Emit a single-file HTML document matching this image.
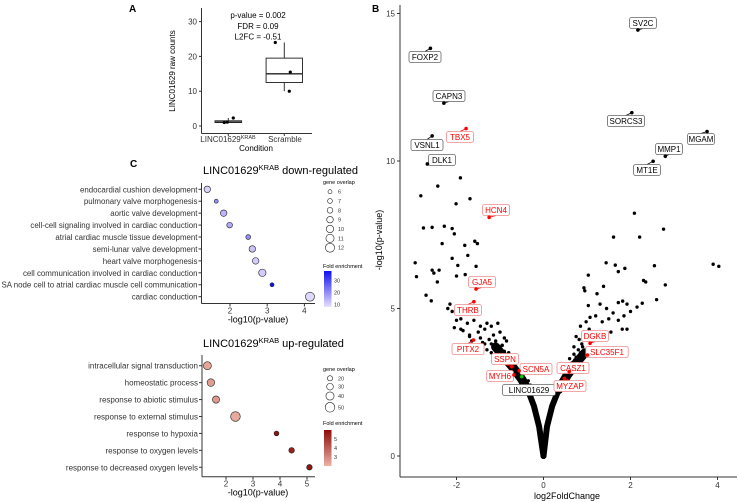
<!DOCTYPE html>
<html><head><meta charset="utf-8"><style>
html,body{margin:0;padding:0;background:#fff}
svg{display:block;font-family:"Liberation Sans",Arial,sans-serif}
</style></head><body>
<svg id="fig" width="738" height="502" viewBox="0 0 738 502" xmlns="http://www.w3.org/2000/svg">
<g id="pA"></g>
<g id="pB"></g>
<g id="pC1"></g>
<g id="pC2"></g>
</svg>
<script>
// ---------- Panel A data ----------
const aGroups = ["LINC01629", "Scramble"];
const aPoints1 = [1.0, 1.1, 2.3];
const aPoints2 = [24, 15.5, 10];
const aBox1 = [0.9, 1.0, 1.1, 1.5, 2.3];
const aBox2 = [10, 12.5, 15, 19.5, 24];
const aTicks = [0, 10, 20, 30];
const aStats = ["p-value = 0.002", "FDR = 0.09", "L2FC = -0.51"];

// ---------- Panel B data ----------
const bXTicks = [-2, 0, 2, 4];
const bYTicks = [0, 5, 10, 15];
const bGenes = ["FOXP2","CAPN3","TBX5","VSNL1","DLK1","HCN4","SV2C","SORCS3","MGAM","MMP1","MT1E","GJA5","THRB","PITX2","SSPN","SCN5A","MYH6","LINC01629","DGKB","SLC35F1","CASZ1","MYZAP"];
const bGeneLfc = [-2.60,-2.29,-1.78,-2.56,-2.67,-1.25,2.17,2.03,3.76,2.80,2.52,-1.55,-1.60,-1.61,-0.73,-0.56,-0.68,-0.50,1.07,1.01,0.59,0.48];
const bGeneP = [13.82,11.96,11.1,10.85,9.9,8.09,14.44,11.64,11.0,10.16,9.99,5.66,5.23,3.93,3.03,2.89,2.75,2.69,3.82,3.42,2.86,2.63];
const bGeneCls = ["k","k","r","k","k","r","k","k","k","k","k","r","r","r","r","r","r","g","r","r","r","r"];
const bOtherLfc = [-1.91,-2.43,-2.82,-1.69,-2.01,2.09,-2.76,-2.56,-2.28,-2.10,-2.05,2.76,1.61,2.21,-2.33,-1.81,-1.58,-1.52,
 -2.95,-2.92,-2.56,-2.52,-2.40,-2.10,-1.97,-1.74,-1.55,-2.0,-1.8,-2.44,-1.42,-2.7,-2.58,-2.2,-2.1,-2.15,
 1.44,1.65,1.87,1.72,2.55,3.9,4.03,1.03,2.3,2.35,2.8,1.38,0.93,0.95,1.23,2.6,2.27,2.15,1.03,1.3,1.72,1.82,1.92,2.0,1.85,1.72,1.81,1.92,
 1.45,1.6,1.07,1.2,1.35,1.5,0.98,0.85,0.92,0.75,0.82,1.05,1.55,0.7,0.88,
 -1.9,-1.75,-1.6,-1.45,-1.3,-1.2,-1.05,-2.05,-1.85,-1.7,-1.5,-1.35,-1.15,-1.0,-0.9,-1.65,-1.4,-1.25,-1.1,-0.95,-0.85,-1.3,-1.2,-1.05,-0.8,-0.75,-1.45,-1.7,-1.9,-2.0,-1.15,-0.3,-0.35,
 -1.0,-0.9,-0.8,-1.1,-1.2,-0.7,-0.65,-1.35,-1.5,-0.95,-1.05,-0.85,0.6,0.7,0.8,0.65,0.75,0.85,0.9,1.0,0.55,0.62,0.72,1.1];
const bOtherP = [9.43,9.15,8.82,8.72,8.55,8.23,7.73,7.75,7.79,7.71,7.53,7.69,7.42,7.42,7.2,7.14,7.28,7.2,
 6.55,6.08,6.3,6.2,6.3,6.7,6.46,6.8,6.43,6.1,6.15,5.9,5.8,5.45,5.26,5.0,4.9,5.15,
 6.55,6.47,6.36,6.25,6.45,6.5,6.43,6.13,5.95,5.9,5.8,5.75,5.7,5.6,5.5,5.3,5.18,5.05,5.1,5.15,5.2,5.25,5.15,4.9,4.75,4.6,4.3,4.3,
 5.0,4.85,4.7,4.75,4.55,4.65,4.55,4.4,4.2,4.05,3.95,4.3,4.2,3.7,3.8,
 4.65,4.5,4.6,4.4,4.5,4.4,4.5,4.35,4.25,4.1,4.2,4.3,4.1,4.2,4.0,3.9,3.85,3.95,3.7,3.75,3.9,3.6,3.5,3.45,3.5,3.3,4.0,4.05,4.3,4.6,3.35,2.4,2.55,
 3.7,3.55,3.4,3.9,3.8,3.2,3.05,3.8,3.65,3.75,3.5,3.25,3.3,3.45,3.6,3.15,3.35,3.5,3.7,3.6,2.95,3.05,3.25,3.9];
const bArmL = [[0,0],[-0.1,1.0],[-0.22,1.7],[-0.35,2.2],[-0.5,2.6],[-0.7,3.0],[-0.9,3.35],[-1.1,3.7]];
const bArmR = [[0,0],[0.08,1.0],[0.2,1.7],[0.35,2.25],[0.55,2.75],[0.75,3.15],[0.95,3.5]];
const bLabelPos = [[425,57],[449,96],[460,137],[427,145],[442,160],[496,210],[643,23],[626,121],[701,139],[669,149],[647,170],
 [482,282],[468,310],[468,349],[505,359],[536,369],[500,376],[529,390],[595,336],[607,352],[573,368],[570,386]];

// ---------- Panel C data ----------
const cDownTerms = ["endocardial cushion development","pulmonary valve morphogenesis","aortic valve development","cell-cell signaling involved in cardiac conduction","atrial cardiac muscle tissue development","semi-lunar valve development","heart valve morphogenesis","cell communication involved in cardiac conduction","SA node cell to atrial cardiac muscle cell communication","cardiac conduction"];
const cDownP = [1.39,1.63,1.83,1.99,2.49,2.6,2.69,2.87,3.13,4.15];
const cDownOverlap = [9,6,9,8,7,9,9,10,6,12];
const cDownFold = [10,20,14,16,20,12,11,11,38,9];
const cDownXTicks = [2,3,4];
const cDownSizeLegend = [6,7,8,9,10,11,12];
const cDownFoldTicks = [10,20,30];
const cUpTerms = ["intracellular signal transduction","homeostatic process","response to abiotic stimulus","response to external stimulus","response to hypoxia","response to oxygen levels","response to decreased oxygen levels"];
const cUpP = [1.31,1.44,1.63,2.35,3.87,4.43,5.09];
const cUpOverlap = [39,36,34,50,18,23,23];
const cUpFold = [2.3,2.5,2.6,2.2,5.8,5.5,5.8];
const cUpXTicks = [2,3,4,5];
const cUpSizeLegend = [20,30,40,50];
const cUpFoldTicks = [3,4,5];

const NS="http://www.w3.org/2000/svg";
function mk(parent,tag,attrs,text){const e=document.createElementNS(NS,tag);for(const k in attrs)e.setAttribute(k,attrs[k]);if(text!==undefined)e.textContent=text;parent.appendChild(e);return e;}
function lerpCol(c1,c2,t){t=Math.max(0,Math.min(1,t));const a=c1.map((v,i)=>Math.round(v+(c2[i]-v)*t));return `rgb(${a[0]},${a[1]},${a[2]})`;}

const fig=document.getElementById('fig');
[["A",129,12],["B",372,12],["C",130,167]].forEach(([t,x,y])=>{const e=mk(fig,'text',{x:x,y:y,'font-size':10,'font-weight':'bold'},t);

});

// ===== Panel A =====
(function(){
 const g=document.getElementById('pA');
 const y=v=>126-v*3.48, xc=[228.3,284.3], hw=[13.3,18.2];
 mk(g,'line',{x1:201.5,y1:8,x2:201.5,y2:133.5,stroke:'#333','stroke-width':1});
 mk(g,'line',{x1:201.5,y1:133.5,x2:312,y2:133.5,stroke:'#333','stroke-width':1});
 aTicks.forEach(t=>{mk(g,'line',{x1:199,x2:201.5,y1:y(t),y2:y(t),stroke:'#333'});
  const e=mk(g,'text',{x:197,y:y(t)+3,'font-size':8,'text-anchor':'end',fill:'#333'},t);
  
  });
 [aBox1,aBox2].forEach((b,i)=>{const c=xc[i];
  mk(g,'line',{x1:c,x2:c,y1:y(b[0]),y2:y(b[1]),stroke:'#333'});
  mk(g,'line',{x1:c,x2:c,y1:y(b[3]),y2:y(b[4]),stroke:'#333'});
  const r=mk(g,'rect',{x:c-hw[i],y:y(b[3]),width:hw[i]*2,height:Math.max(1,y(b[1])-y(b[3])),fill:'#fff',stroke:'#333'});
  
  
  mk(g,'line',{x1:c-hw[i],x2:c+hw[i],y1:y(b[2]),y2:y(b[2]),stroke:'#222','stroke-width':1.4});
  mk(g,'line',{x1:c,x2:c,y1:133.5,y2:136,stroke:'#333'});
 });
 [aPoints1,aPoints2].forEach((p,i)=>p.forEach((v,j)=>{const e=mk(g,'circle',{cx:xc[i]+[[-4,-1,5],[-9,6,5]][i][j],cy:y(v),r:1.6,fill:'#000'});
  
  }));
 const l1=mk(g,'text',{x:228,y:142,'font-size':8,'text-anchor':'middle',fill:'#333'});
 l1.innerHTML='LINC01629<tspan dy="-3" font-size="5.5">KRAB</tspan>';
 
 
 const l2=mk(g,'text',{x:285,y:142,'font-size':8,'text-anchor':'middle',fill:'#333'},'Scramble');
 
 
 const xt=mk(g,'text',{x:256,y:151,'font-size':8,'text-anchor':'middle'},'Condition');
 
 
 const yt=mk(g,'text',{x:0,y:0,'font-size':8,'text-anchor':'middle',transform:'translate(175,71) rotate(-90)'},'LINC01629 raw counts');
 
 
 aStats.forEach((s,i)=>{const e=mk(g,'text',{x:258,y:18+i*10.8,'font-size':8,'text-anchor':'middle'},s);
  
  });
})();

// ===== Panel B =====
(function(){
 const g=document.getElementById('pB');
 const X=v=>543.5+v*43.5, Y=v=>456-v*29.5;
 mk(g,'line',{x1:400,y1:5,x2:400,y2:477,stroke:'#333','stroke-width':1});
 mk(g,'line',{x1:400,y1:477,x2:737,y2:477,stroke:'#333','stroke-width':1});
 bYTicks.forEach(t=>{mk(g,'line',{x1:397,x2:400,y1:Y(t),y2:Y(t),stroke:'#333'});
  const e=mk(g,'text',{x:395,y:Y(t)+3,'font-size':8,'text-anchor':'end',fill:'#333'},t);
  
  });
 bXTicks.forEach(t=>{mk(g,'line',{x1:X(t),x2:X(t),y1:477,y2:480,stroke:'#333'});
  const e=mk(g,'text',{x:X(t),y:488,'font-size':8,'text-anchor':'middle',fill:'#333'},t);
  
  });
 const xt=mk(g,'text',{x:567,y:499,'font-size':9,'text-anchor':'middle'},'log2FoldChange');
 
 
 const yt=mk(g,'text',{x:0,y:0,'font-size':9,'text-anchor':'middle',transform:'translate(382,240) rotate(-90)'},'-log10(p-value)');
 
 
 [bArmL,bArmR].forEach((arm,i)=>{const d=arm.map((p,j)=>(j?'L':'M')+X(p[0]).toFixed(1)+','+Y(p[1]).toFixed(1)).join('');
  const e=mk(g,'path',{d:d,fill:'none',stroke:'#000','stroke-width':6,'stroke-linecap':'round','stroke-linejoin':'round'});
  
  
  const d2=arm.slice(3).map((p,j)=>(j?'L':'M')+X(p[0]).toFixed(1)+','+Y(p[1]).toFixed(1)).join('');
  const e2=mk(g,'path',{d:d2,fill:'none',stroke:'#000','stroke-width':9,'stroke-linecap':'round','stroke-linejoin':'round'});
  
  });
 bOtherLfc.forEach((v,i)=>{const e=mk(g,'circle',{cx:X(v),cy:Y(bOtherP[i]),r:1.7,fill:'#000'});
  
  });
 bGenes.forEach((name,i)=>{
  const px=X(bGeneLfc[i]),py=Y(bGeneP[i]),lp=bLabelPos[i],cls=bGeneCls[i];
  const col=cls==='r'?'#f00':(cls==='g'?'#0c0':'#000');
  const w=name.length*5.2+6,h=11;
  mk(g,'line',{x1:px,y1:py,x2:lp[0],y2:lp[1]+(py>lp[1]?h/2:-h/2),stroke:cls==='r'?'#f00':'#000','stroke-width':0.8});
  const lg=mk(g,'g',{});
  
  
  mk(lg,'rect',{x:lp[0]-w/2,y:lp[1]-h/2,width:w,height:h,rx:2,fill:'#fff',stroke:cls==='r'?'#f08a8a':'#666','stroke-width':0.8});
  mk(lg,'text',{x:lp[0],y:lp[1]+3,'font-size':8,'text-anchor':'middle',fill:cls==='r'?'#f00':'#000'},name);
  const c=mk(g,'circle',{cx:px,cy:py,r:1.8,fill:col});
  
  
 });
})();

// ===== Panel C =====
function dotPanel(gid,o){
 const g=document.getElementById(gid);
 const X=v=>o.x0+v*o.sx;
 const rowY=i=>o.rowTop+i*o.rowStep;
 const t=mk(g,'text',{x:203,y:o.titleY,'font-size':11});
 t.innerHTML='LINC01629<tspan dy="-4" font-size="7.5">KRAB</tspan><tspan dy="4"> '+o.title+'</tspan>';
 
 
 mk(g,'line',{x1:o.axL,y1:o.axTop,x2:o.axL,y2:o.axB,stroke:'#333'});
 mk(g,'line',{x1:o.axL,y1:o.axB,x2:315,y2:o.axB,stroke:'#333'});
 o.ticks.forEach(tk=>{mk(g,'line',{x1:X(tk),x2:X(tk),y1:o.axB,y2:o.axB+3,stroke:'#333'});
  const e=mk(g,'text',{x:X(tk),y:o.axB+10,'font-size':8,'text-anchor':'middle',fill:'#333'},tk);
  
  });
 const xt=mk(g,'text',{x:258,y:o.axB+19,'font-size':9,'text-anchor':'middle'},'-log10(p-value)');
 
 
 o.terms.forEach((term,i)=>{
  mk(g,'line',{x1:o.axL-3,x2:o.axL,y1:rowY(i),y2:rowY(i),stroke:'#333'});
  const e=mk(g,'text',{x:o.axL-4,y:rowY(i)+3,'font-size':o.fs,'text-anchor':'end',fill:'#333'},term);
  
  
  const c=mk(g,'circle',{cx:X(o.p[i]),cy:rowY(i),r:o.rad(o.ov[i]),fill:o.col(o.fold[i]),stroke:'#222','stroke-width':0.6});
  
  
 });
 const lt=mk(g,'text',{x:323,y:o.legTitleY,'font-size':5.5},'gene overlap');
 
 
 o.sizeLeg.forEach((s,i)=>{const yy=o.sizeY[i];
  const e=mk(g,'circle',{cx:330,cy:yy,r:o.rad(s),fill:'#fff',stroke:'#222','stroke-width':0.6});
  
  
  mk(g,'text',{x:338,y:yy+2,'font-size':5.5,fill:'#333'},s);});
 const ft=mk(g,'text',{x:323,y:o.foldTitleY,'font-size':5.5},'Fold enrichment');
 
 
 const gid2=gid+'grad';
 const defs=mk(g,'defs',{});const lg=mk(defs,'linearGradient',{id:gid2,x1:0,y1:1,x2:0,y2:0});
 mk(lg,'stop',{offset:0,'stop-color':o.col(o.foldMin)});mk(lg,'stop',{offset:1,'stop-color':o.col(o.foldMax)});
 const bar=mk(g,'rect',{x:324,y:o.barTop,width:7.5,height:o.barH,fill:`url(#${gid2})`});
 
 
 o.foldTicks.forEach(ft=>{const yy=o.barTop+o.barH*(1-(ft-o.foldMin)/(o.foldMax-o.foldMin));
  mk(g,'text',{x:334,y:yy+2,'font-size':5.5,fill:'#333'},ft);});
}
dotPanel('pC1',{title:'down-regulated',titleY:174,terms:cDownTerms,p:cDownP,ov:cDownOverlap,fold:cDownFold,ticks:cDownXTicks,fs:7.9,
 x0:155.6,sx:37.2,rowTop:189.3,rowStep:11.93,axL:201.5,axTop:183,axB:303.5,
 rad:n=>2+(n-6)*0.42,col:f=>lerpCol([232,224,252],[16,16,240],(f-8)/(38-8)),
 sizeLeg:cDownSizeLegend,sizeY:[191.7,201,210.3,219.7,229,238.3,247.7],legTitleY:184,foldTitleY:268,
 barTop:271,barH:36,foldMin:8,foldMax:38,foldTicks:cDownFoldTicks});
dotPanel('pC2',{title:'up-regulated',titleY:347,terms:cUpTerms,p:cUpP,ov:cUpOverlap,fold:cUpFold,ticks:cUpXTicks,fs:8,
 x0:172,sx:27,rowTop:365.7,rowStep:16.93,axL:202,axTop:355,axB:476.7,
 rad:n=>2.2+(n-15)*0.075,col:f=>lerpCol([236,178,164],[142,10,10],(f-2)/(6-2)),
 sizeLeg:cUpSizeLegend,sizeY:[378.3,386.7,396,407.3],legTitleY:371,foldTitleY:425,
 barTop:430,barH:36,foldMin:2,foldMax:6,foldTicks:cUpFoldTicks});
</script>
</body></html>
